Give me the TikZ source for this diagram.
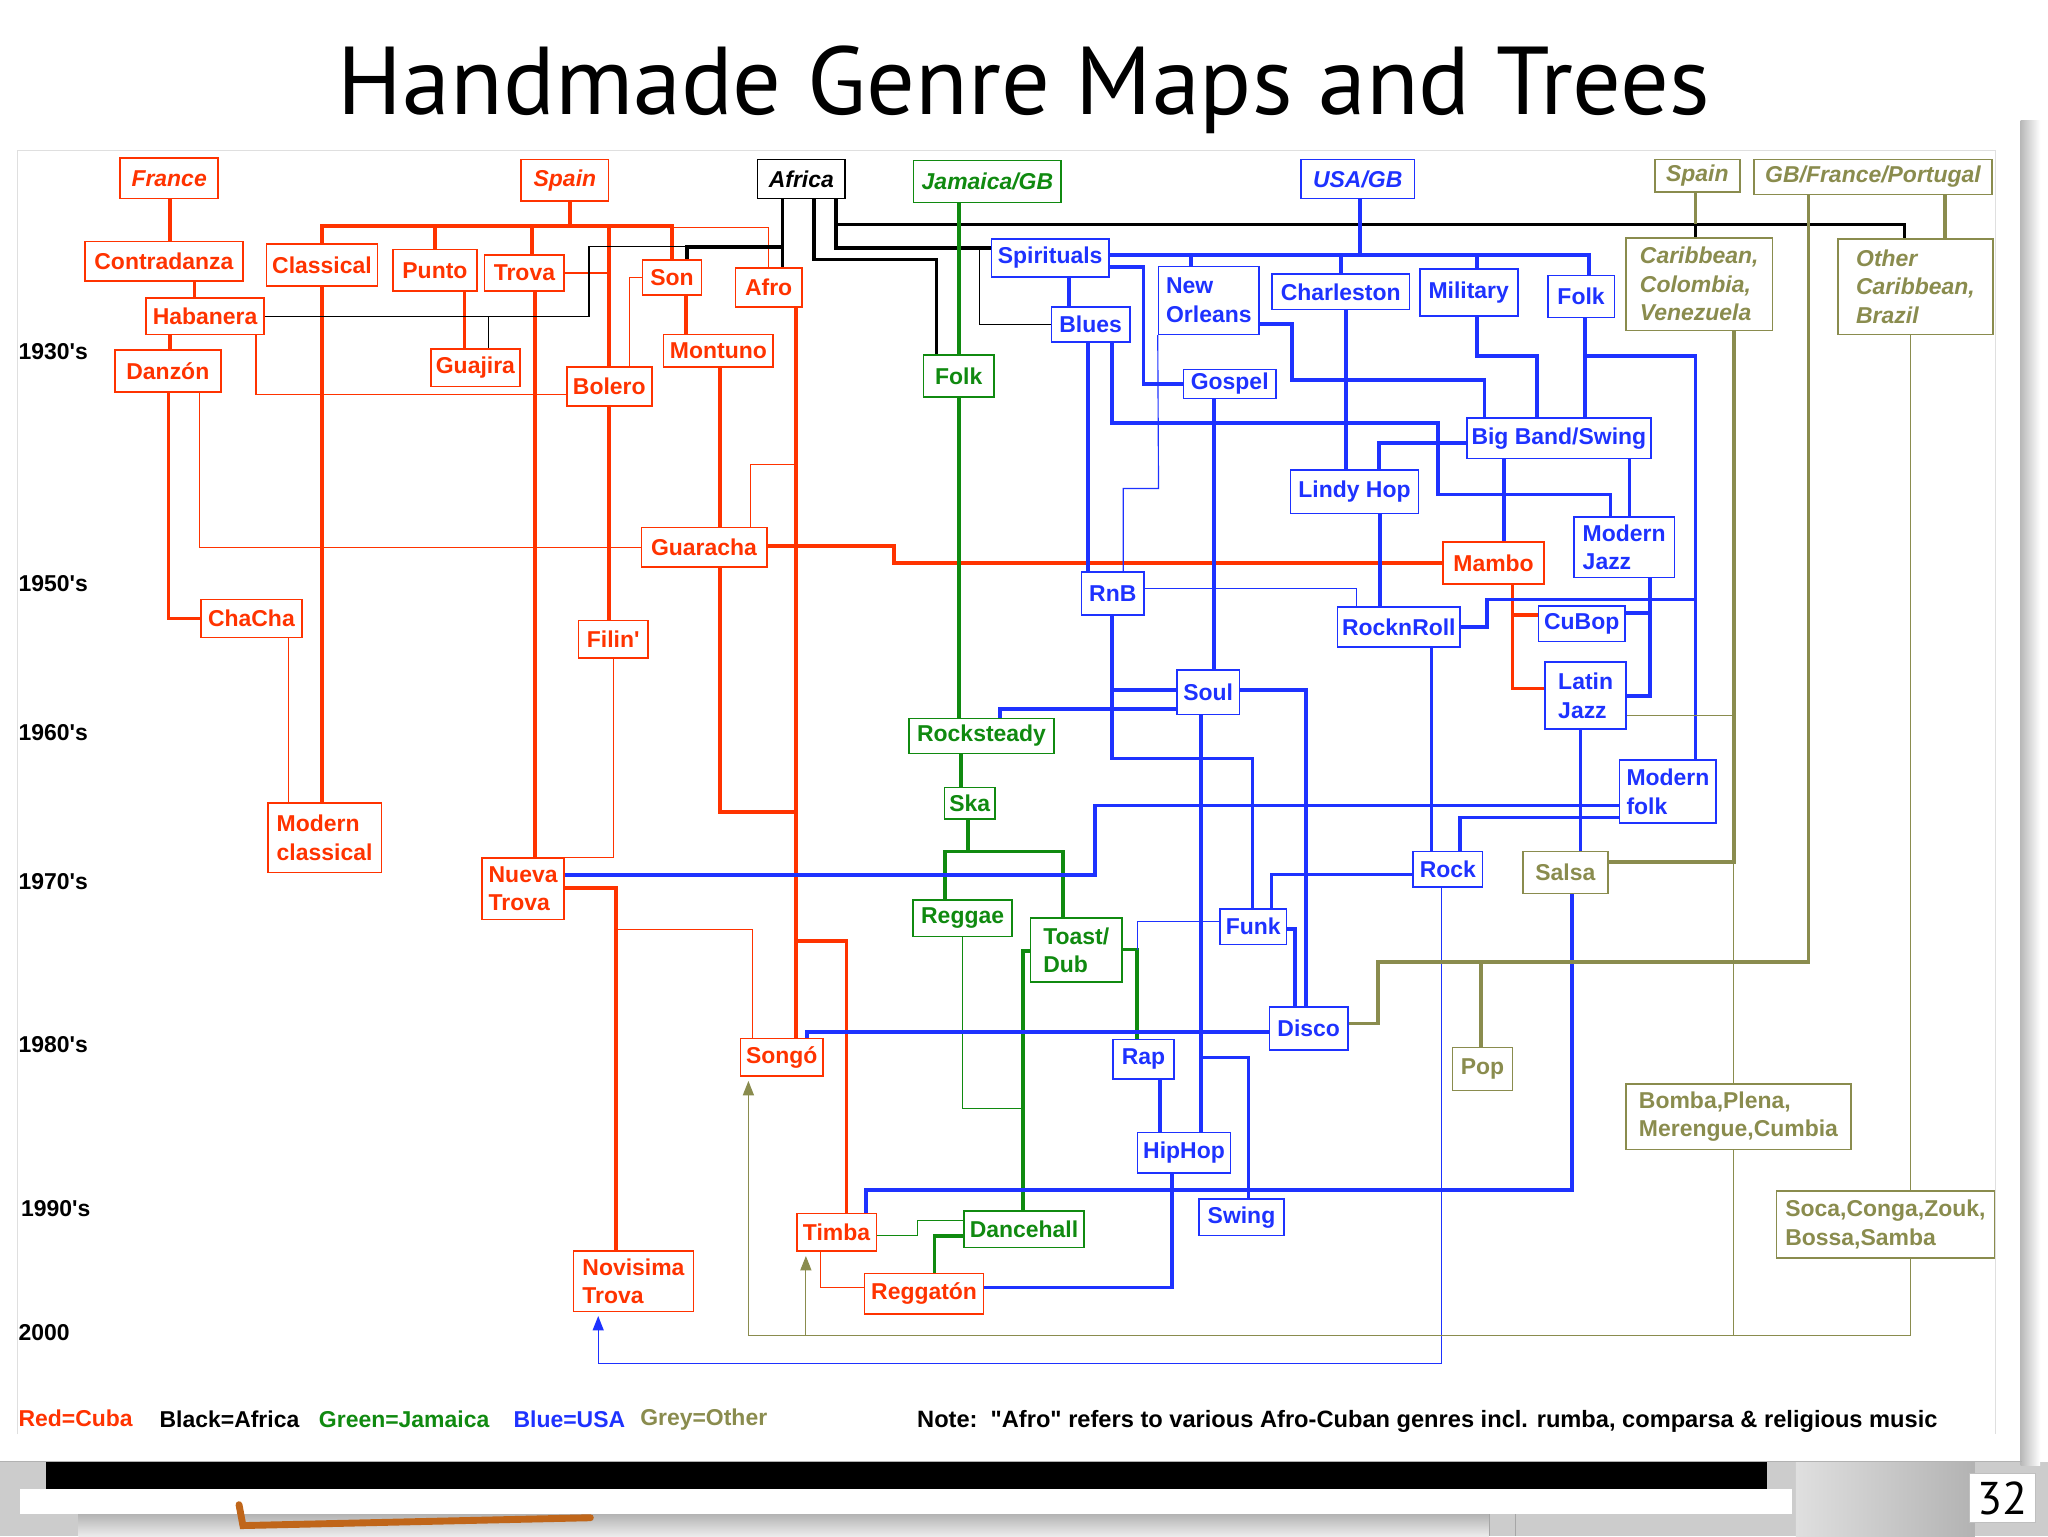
\documentclass[tikz,border=0pt]{standalone}
\usepackage{fontspec}
\setmainfont{Liberation Sans}[Ligatures=TeXOff]
\newfontfamily\titlefont{PT Sans}
\usetikzlibrary{arrows.meta}
\definecolor{cubared}{HTML}{FF3300}
\definecolor{usablue}{HTML}{1E32FF}
\definecolor{jamgreen}{HTML}{108A10}
\definecolor{othgrey}{HTML}{8A8C4E}
\definecolor{brush}{HTML}{C0661A}

\begin{document}
\begin{tikzpicture}[x=0.2mm, y=-0.2mm,
  genre/.style={draw, line width=0.7pt, inner xsep=0.6mm, inner ysep=0.4mm, align=left, font=\bfseries\fontsize{10}{12.5}\selectfont},
  bw/.style={minimum width=#1*0.2mm},
  bh/.style={minimum height=#1*0.2mm},
  cubox/.style={genre, draw=cubared, text=cubared},
  afbox/.style={genre, draw=black, text=black},
  jmbox/.style={genre, draw=jamgreen, text=jamgreen},
  usbox/.style={genre, draw=usablue, text=usablue},
  otbox/.style={genre, draw=othgrey, text=othgrey},
  cuthick/.style={cubared, line width=1.6pt},
  cuthin/.style={cubared, line width=0.5pt},
  afthick/.style={black, line width=1.6pt},
  afthin/.style={black, line width=0.5pt},
  jmthick/.style={jamgreen, line width=1.6pt},
  jmthin/.style={jamgreen, line width=0.5pt},
  usthick/.style={usablue, line width=1.6pt},
  usthin/.style={usablue, line width=0.5pt},
  otthick/.style={othgrey, line width=1.6pt},
  otthin/.style={othgrey, line width=0.5pt},
  arr/.style={-{Triangle[length=2.2mm, width=1.7mm]}, shorten >=0.6mm},
  decade/.style={anchor=west, font=\bfseries\fontsize{10}{12}\selectfont},
  legend/.style={anchor=west, font=\bfseries\fontsize{10}{12}\selectfont}]
\useasboundingbox (0,0) rectangle (1568,1176);
\fill[white] (0,0) rectangle (1568,1176);

% screen under the slide
\fill[gray!40] (0,1119) rectangle (1568,1176);
\shade[top color=gray!60, bottom color=gray!15] (60,1159) rectangle (1140,1176);
\draw[gray!70] (1140,1159) -- (1140,1176) (1160,1159) -- (1160,1176);
\fill[white] (15,1140) rectangle (1372,1159);
\fill[black] (35,1119) rectangle (1353,1140);
\draw[brush, line width=3pt, line cap=round] (183,1152) -- (186,1168) -- (452,1162);
\shade[left color=gray!25, right color=gray!60] (1375,1119) rectangle (1512,1176);
\node[draw=gray!50, fill=white, minimum width=39*0.2mm, minimum height=33*0.2mm, font=\titlefont\fontsize{20}{22}\selectfont] (pagenum) at (1533,1147) {32};
\shade[left color=gray!55, right color=white] (1547,92) rectangle (1562,1122);
\draw[gray!60] (0,1119) -- (1548,1119);
\draw[gray!25] (13,1098) -- (13,115) -- (1528,115) -- (1528,1098);

\node[anchor=base, font=\titlefont\fontsize{42}{50}\selectfont] (title) at (784,88) {Handmade Genre Maps and Trees};

% decades
\node[decade] (d1930) at (8,269) {1930's};
\node[decade] (d1950) at (8,447) {1950's};
\node[decade] (d1960) at (8,561) {1960's};
\node[decade] (d1970) at (8,675) {1970's};
\node[decade] (d1980) at (8,800) {1980's};
\node[decade] (d1990) at (10,925) {1990's};
\node[decade] (d2000) at (8,1020) {2000};

% Cuba
\node[cubox, bw=75, bh=31] (france) at (129.5,136.5) {\itshape France};
\node[cubox, bw=67, bh=32] (spaincu) at (432.5,138) {\itshape Spain};
\node[cubox, bw=121, bh=30] (contradanza) at (125.5,200) {Contradanza};
\node[cubox, bw=85, bh=32] (classical) at (246.5,203) {Classical};
\node[cubox, bw=64, bh=32] (punto) at (333,207) {Punto};
\node[cubox, bw=61, bh=28] (trova) at (401.5,209) {Trova};
\node[cubox, bw=45, bh=27] (son) at (514.5,212.5) {Son};
\node[cubox, bw=51, bh=30] (afro) at (588.5,220) {Afro};
\node[cubox, bw=90, bh=28] (habanera) at (157,242) {Habanera};
\node[cubox, bw=84, bh=25] (montuno) at (550,268.5) {Montuno};
\node[cubox, bw=68, bh=29] (guajira) at (364,281.5) {Guajira};
\node[cubox, bw=81, bh=32] (danzon) at (128.5,284) {Danzón};
\node[cubox, bw=65, bh=30] (bolero) at (466.5,296) {Bolero};
\node[cubox, bw=96, bh=30] (guaracha) at (539,419) {Guaracha};
\node[cubox, bw=77, bh=32] (mambo) at (1143.5,431) {Mambo};
\node[cubox, bw=77, bh=29] (chacha) at (192.5,473.5) {ChaCha};
\node[cubox, bw=53, bh=29] (filin) at (469.5,489.5) {Filin'};
\node[cubox, bw=87, bh=53] (modclassical) at (248.5,641.5) {Modern\\classical};
\node[cubox, bw=63, bh=47] (nuevatrova) at (400.5,680.5) {Nueva\\Trova};
\node[cubox, bw=63, bh=29] (songo) at (598.5,809.5) {Songó};
\node[cubox, bw=61, bh=29] (timba) at (640.5,943.5) {Timba};
\node[cubox, bw=91, bh=31] (reggaton) at (707.5,990.5) {Reggatón};
\node[cubox, bw=92, bh=46] (novisima) at (485,981) {Novisima\\Trova};

% Africa
\node[afbox, bw=67, bh=30] (africa) at (613.5,137) {\itshape Africa};

% Jamaica
\node[jmbox, bw=113, bh=32] (jamaica) at (756,139) {\itshape Jamaica/GB};
\node[jmbox, bw=54, bh=32] (folkgreen) at (734,288) {Folk};
\node[jmbox, bw=111, bh=27] (rocksteady) at (751.5,563.5) {Rocksteady};
\node[jmbox, bw=39, bh=24] (ska) at (742.5,615) {Ska};
\node[jmbox, bw=76, bh=28] (reggae) at (737,703) {Reggae};
\node[jmbox, bw=70, bh=49] (toast) at (824,727.5) {Toast/\\Dub};
\node[jmbox, bw=92, bh=28] (dancehall) at (784,941) {Dancehall};

% USA
\node[usbox, bw=87, bh=30] (usagb) at (1039.5,137) {\itshape USA/GB};
\node[usbox, bw=90, bh=29] (spirituals) at (804,197.5) {Spirituals};
\node[usbox, bw=60, bh=27] (blues) at (835,248.5) {Blues};
\node[usbox, bw=77, bh=52] (neworleans) at (925.5,230) {New\\Orleans};
\node[usbox, bw=105, bh=27] (charleston) at (1026.5,223.5) {Charleston};
\node[usbox, bw=75, bh=36] (military) at (1124.5,224) {Military};
\node[usbox, bw=51, bh=32] (folkblue) at (1210.5,227) {Folk};
\node[usbox, bw=71, bh=22] (gospel) at (941.5,294) {Gospel};
\node[usbox, bw=141, bh=31] (bigband) at (1193.5,335.5) {Big Band/Swing};
\node[usbox, bw=98, bh=33] (lindyhop) at (1037,376.5) {Lindy Hop};
\node[usbox, bw=77, bh=46] (modjazz) at (1243.5,419) {Modern\\Jazz};
\node[usbox, bw=48, bh=33] (rnb) at (852,454.5) {RnB};
\node[usbox, bw=94, bh=31] (rocknroll) at (1071,480) {RocknRoll};
\node[usbox, bw=66, bh=27] (cubop) at (1211,477.5) {CuBop};
\node[usbox, bw=48, bh=34] (soul) at (925,530) {Soul};
\node[usbox, bw=62, bh=51] (latinjazz) at (1214,532.5) {Latin\\Jazz};
\node[usbox, bw=74, bh=48] (modfolk) at (1277,606) {Modern\\folk};
\node[usbox, bw=53, bh=27] (rock) at (1108.5,665.5) {Rock};
\node[usbox, bw=51, bh=27] (funk) at (959.5,709.5) {Funk};
\node[usbox, bw=60, bh=33] (disco) at (1002,787.5) {Disco};
\node[usbox, bw=47, bh=30] (rap) at (875.5,811) {Rap};
\node[usbox, bw=71, bh=31] (hiphop) at (906.5,882.5) {HipHop};
\node[usbox, bw=65, bh=28] (swing) at (950.5,932) {Swing};

% Other
\node[otbox, bw=65, bh=25] (spainot) at (1299.5,134.5) {\itshape Spain};
\node[otbox, bw=182, bh=27] (gbfp) at (1434,135.5) {\itshape GB/France/Portugal};
\node[otbox, bw=112, bh=71] (carib) at (1301,217.5) {\itshape Caribbean,\\\itshape Colombia,\\\itshape Venezuela};
\node[otbox, bw=119, bh=73] (othercarib) at (1466.5,219.5) {\itshape Other\\\itshape Caribbean,\\\itshape Brazil};
\node[otbox, bw=65, bh=32] (salsa) at (1198.5,668) {Salsa};
\node[otbox, bw=46, bh=33] (pop) at (1135,818.5) {Pop};
\node[otbox, bw=172, bh=50] (bomba) at (1331,855) {Bomba,Plena,\\Merengue,Cumbia};
\node[otbox, bw=167, bh=51] (soca) at (1443.5,937.5) {Soca,Conga,Zouk,\\Bossa,Samba};

% Cuba links
\coordinate (spainbar) at (436.6,173);
\draw[cuthick] (france.south -| 130,0) -- (contradanza.north -| 130,0);
\draw[cuthick] (contradanza.south -| 149,0) -- (habanera.north -| 149,0);
\draw[cuthick] (habanera.south -| 130,0) -- (danzon.north -| 130,0);
\draw[cuthick] (danzon.south -| 129,0) |- (chacha.west);
\draw[cuthin] (danzon.south -| 153,0) |- (guaracha.west);
\draw[cuthin] (habanera.south -| 196,0) |- (bolero.west |- 0,302);
\draw[cuthick] (spaincu.south -| spainbar) -- (spainbar);
\draw[cuthick] (classical.north) |- (spainbar) -| (son.north);
\draw[cuthick] (spainbar -| punto.north) -- (punto.north);
\draw[cuthick] (spainbar -| 407.5,0) -- (trova.north -| 407.5,0);
\draw[cuthick] (spainbar -| bolero.north) -- (bolero.north);
\draw[cuthin] (son.north |- 0,174) -| (afro.north);
\draw[cuthin] (trova.east) -- (trova.east -| bolero.north);
\draw[cuthin] (son.west) -| (bolero.north -| 482,0);
\draw[cuthick] (son.south -| 525,0) -- (montuno.north -| 525,0);
\draw[cuthick] (classical.south) -- (classical.south |- modclassical.north);
\draw[cuthick] (punto.south -| 355.6,0) -- (guajira.north -| 355.6,0);
\draw[cuthick] (trova.south -| 409.6,0) -- (nuevatrova.north -| 409.6,0);
\draw[cuthick] (bolero.south) -- (bolero.south |- filin.north);
\draw[cuthin] (filin.south) |- (nuevatrova.north east);
\draw[cuthin] (chacha.south -| 221,0) -- (modclassical.north -| 221,0);
\draw[cuthick] (montuno.south -| 551,0) -- (guaracha.north -| 551,0);
\draw[cuthick] (afro.south -| 609.5,0) -- (songo.north -| 609.5,0);
\draw[cuthick] (guaracha.south -| 551,0) |- (609.5,621.5);
\draw[cuthick] (609.5,720.5) -| (timba.north -| 648,0);
\draw[cuthin] (609.5,355.3) -| (guaracha.north -| 574.3,0);
\draw[cuthick] (guaracha.east |- 0,418) -- (684.7,418) |- (mambo.west);
\draw[cuthick] (nuevatrova.east |- 0,679.7) -| (novisima.north -| 471.8,0);
\draw[cuthin] (471.8,711.6) -| (songo.north -| 576.3,0);
\draw[cuthick] (mambo.south -| 1158,0) |- (latinjazz.west |- 0,527);
\draw[cuthick] (1158,471) -- (cubop.west |- 0,471);
\draw[cuthin] (timba.south -| 628,0) |- (reggaton.west |- 0,985.7);

% Africa links
\draw[afthick] (africa.south -| 599,0) -- (afro.north -| 599,0);
\draw[afthick] (599,189) -| (son.north -| 526,0);
\draw[afthin] (526,189) -| (habanera.east -| 451,0) -- (habanera.east);
\draw[afthin] (374,242) -- (guajira.north -| 374,0);
\draw[afthick] (africa.south -| 623,0) |- (717,198.6) -- (folkgreen.north -| 717,0);
\draw[afthick] (africa.south -| 640,0) |- (spirituals.west |- 0,190);
\draw[afthick] (640,171.8) -| (othercarib.north -| 1458,0);
\draw[afthick] (1298,171.8) -- (carib.north -| 1298,0);
\draw[afthin] (749.7,190) |- (blues.west);

% Jamaica links
\draw[jmthick] (jamaica.south -| 734,0) -- (folkgreen.north -| 734,0);
\draw[jmthick] (folkgreen.south -| 734,0) -- (rocksteady.north -| 734,0);
\draw[jmthick] (rocksteady.south -| 736,0) -- (ska.north -| 736,0);
\draw[jmthick] (ska.south -| 741,0) -- (741,651.8);
\draw[jmthick] (reggae.north -| 723.4,0) |- (813.6,651.8) -- (toast.north -| 813.6,0);
\draw[jmthick] (toast.east |- 0,727) -| (rap.north -| 870.4,0);
\draw[jmthick] (toast.west |- 0,728) -| (dancehall.north -| 783,0);
\draw[jmthin] (reggae.south -| 737,0) |- (783,848.7);
\draw[jmthin] (dancehall.west |- 0,934.7) -| (702.5,945.6) -- (timba.east |- 0,945.6);
\draw[jmthick] (dancehall.west |- 0,946.4) -| (reggaton.north -| 715.5,0);

% USA links
\coordinate (usabar) at (1041,195.3);
\draw[usthick] (usagb.south -| usabar) -- (usabar);
\draw[usthick] (spirituals.east |- usabar) -| (folkblue.north -| 1216.6,0);
\draw[usthick] (usabar -| 912,0) -- (neworleans.north -| 912,0);
\draw[usthick] (usabar -| charleston.north) -- (charleston.north);
\draw[usthick] (usabar -| 1131,0) -- (military.north -| 1131,0);
\draw[usthick] (spirituals.east |- 0,204.2) -| (875.5,294) -- (gospel.west);
\draw[usthick] (spirituals.south -| 818.4,0) -- (blues.north -| 818.4,0);
\draw[usthick] (blues.south -| 832.8,0) -- (rnb.north -| 832.8,0);
\draw[usthick] (blues.south -| 851.2,0) |- (1100.7,323.6) |- (1232.9,378.5) -- (modjazz.north -| 1232.9,0);
\draw[usthick] (neworleans.east |- 0,248.3) -| (989,291) -| (bigband.north -| 1136.6,0);
\draw[usthin] (neworleans.south west) -- (887,374) -| (rnb.north -| 860,0);
\draw[usthick] (charleston.south -| 1030.7,0) -- (lindyhop.north -| 1030.7,0);
\draw[usthick] (military.south -| 1131,0) |- (1176.8,272.6) -- (bigband.north -| 1176.8,0);
\draw[usthick] (folkblue.south -| 1213.3,0) -- (bigband.north -| 1213.3,0);
\draw[usthick] (1213.3,272.6) -| (modfolk.north -| 1298,0);
\draw[usthick] (bigband.west |- 0,339) -| (lindyhop.north -| 1055.6,0);
\draw[usthick] (bigband.south -| 1151.3,0) -- (mambo.north -| 1151.3,0);
\draw[usthick] (bigband.south -| 1247.6,0) -- (modjazz.north -| 1247.6,0);
\draw[usthick] (lindyhop.south -| 1056.3,0) -- (rocknroll.north -| 1056.3,0);
\draw[usthick] (gospel.south -| 929.2,0) -- (soul.north -| 929.2,0);
\draw[usthin] (rnb.east |- 0,450.5) -| (rocknroll.north -| 1038.6,0);
\draw[usthick] (rnb.south -| 851.2,0) |- (958.9,580.7) -- (funk.north -| 958.9,0);
\draw[usthick] (851.2,528.3) -- (soul.west |- 0,528.3);
\draw[usthick] (soul.west |- 0,542.8) -| (rocksteady.north -| 765.7,0);
\draw[usthick] (soul.east |- 0,528.3) -| (disco.north -| 1000,0);
\draw[usthick] (soul.south -| 919.6,0) -- (hiphop.north -| 919.6,0);
\draw[usthick] (919.6,809.6) -| (swing.north -| 955.8,0);
\draw[usthick] (funk.east |- 0,711.5) -| (disco.north -| 991.7,0);
\draw[usthin] (funk.west |- 0,705.7) -| (871,727);
\draw[usthick] (rock.west |- 0,669.5) -| (funk.north -| 973.6,0);
\draw[usthick] (modfolk.west |- 0,616.6) -| (838.6,670) -- (nuevatrova.east |- 0,670);
\draw[usthick] (modfolk.west |- 0,625.8) -| (rock.north -| 1118,0);
\draw[usthick] (rocknroll.east) -| (1138.3,458.9) -- (1298,458.9);
\draw[usthick] (rocknroll.south -| 1095.9,0) -- (rock.north -| 1095.9,0);
\draw[usthick] (modjazz.south -| 1263.2,0) |- (latinjazz.east |- 0,533);
\draw[usthick] (1263.2,469.1) -- (cubop.east |- 0,469.1);
\draw[usthick] (latinjazz.south -| 1210,0) -- (salsa.north -| 1210,0);
\draw[usthick] (salsa.south -| 1203.5,0) |- (663.2,911.2) -- (timba.north -| 663.2,0);
\draw[usthick] (rap.south -| 888,0) -- (hiphop.north -| 888,0);
\draw[usthick] (hiphop.south -| 897.4,0) |- (reggaton.east |- 0,985.7);
\draw[usthick] (disco.west |- 0,790) -| (songo.north -| 618,0);
\draw[usthin, arr] (rock.south -| 1103.4,0) |- (458,1043.9) -- (novisima.south -| 458,0);

% Other links
\draw[otthick] (spainot.south -| 1298,0) -- (1298,171.8);
\draw[otthick] (gbfp.south -| 1384.6,0) |- (1055,736.4) |- (disco.east |- 0,783.6);
\draw[otthick] (1134,736.4) -- (pop.north -| 1134,0);
\draw[otthick] (gbfp.south -| 1489,0) -- (othercarib.north -| 1489,0);
\draw[otthick] (carib.south -| 1327.5,0) |- (salsa.east |- 0,660);
\draw[otthin] (1327.5,660) -- (bomba.north -| 1327.5,0);
\draw[otthin] (latinjazz.east |- 0,547.5) -- (1327.5,547.5);
\draw[otthin] (othercarib.south -| 1463,0) -- (soca.north -| 1463,0);
\draw[otthin, arr] (soca.south -| 1463,0) |- (573,1022.2) -- (songo.south -| 573,0);
\draw[otthin] (bomba.south -| 1327.5,0) -- (1327.5,1022.2);
\draw[otthin, arr] (617,1022.2) -- (timba.south -| 617,0);

% legend
\node[legend, text=cubared] (lgcuba) at (8,1086) {Red=Cuba};
\node[legend] (lgafrica) at (116,1087) {Black=Africa};
\node[legend, text=jamgreen] (lgjamaica) at (238,1087) {Green=Jamaica};
\node[legend, text=usablue] (lgusa) at (387,1087) {Blue=USA};
\node[legend, text=othgrey] (lgother) at (484,1087) {Grey=Other};
\node[legend, font=\bfseries\fontsize{10.3}{12}\selectfont] (note) at (696,1088) {Note:\ \ "Afro" refers to various Afro-Cuban genres incl. rumba, comparsa \& religious music};
\end{tikzpicture}
\end{document}
